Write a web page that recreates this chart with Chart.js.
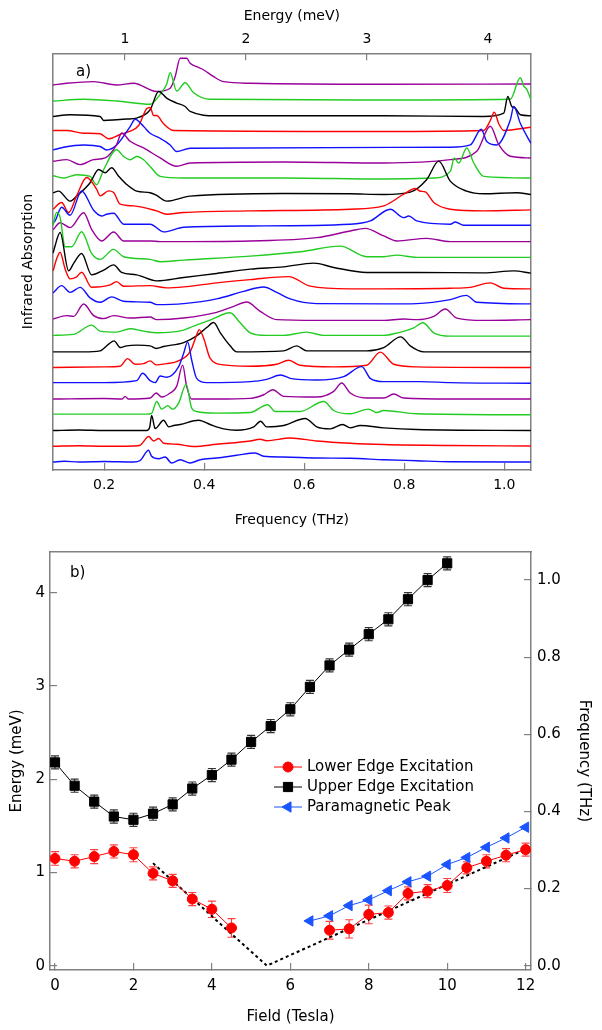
<!DOCTYPE html>
<html>
<head>
<meta charset="utf-8">
<title>Infrared absorption vs field</title>
<script src="https://cdn.jsdelivr.net/npm/chart.js@4.4.1/dist/chart.umd.min.js"></script>
<style>
  body { margin: 0; background: #fff; }
  #wrap { position: relative; width: 602px; height: 1030px; }
  canvas { position: absolute; left: 0; }
  #spectra { top: 0; }
  #modes { top: 530px; }
</style>
</head>
<body>
<div id="wrap">
  <canvas id="spectra" width="602" height="530"></canvas>
  <canvas id="modes" width="602" height="500"></canvas>
</div>
<script>
Chart.defaults.font.family = '"DejaVu Sans", sans-serif';
Chart.defaults.color = '#000';

const axisGray = '#808080';
const THZ_PER_MEV = 0.2418;

// ---- panel a: absorption spectra, one per field step (0 ... 12 T), [THz, absorption]
const t00 = [[0.098,0],[0.12,0.7],[0.15,0],[0.2,0.5],[0.259,0],[0.272,1.5],[0.289,11.7],[0.295,5.7],[0.309,3.3],[0.322,5],[0.335,-1],[0.352,2.3],[0.372,-1],[0.392,2.3],[0.425,4],[0.465,6.7],[0.502,9],[0.519,5.7],[0.559,5],[0.625,4],[0.692,3.7],[0.759,2.3],[0.825,1.3],[0.892,0.3],[1.053,0]];
const t05 = [[0.098,0],[0.15,0.5],[0.2,0],[0.259,0.3],[0.272,1],[0.289,9.7],[0.299,5.3],[0.309,7.7],[0.319,3],[0.345,2],[0.379,-0.3],[0.425,2],[0.492,5.3],[0.512,7],[0.525,5.5],[0.572,8.3],[0.625,5.3],[0.692,3],[0.759,1.7],[0.892,0.7],[1.053,0.3]];
const t10 = [[0.098,0],[0.15,0.5],[0.2,0],[0.285,0],[0.291,3],[0.295,15],[0.302,2],[0.319,10.3],[0.329,3.7],[0.339,5],[0.352,6],[0.389,10.3],[0.412,6],[0.439,1.7],[0.465,0.3],[0.499,3.7],[0.513,9.3],[0.525,3.7],[0.559,5],[0.602,12],[0.625,3.7],[0.652,1.7],[0.677,6],[0.692,2.7],[0.712,5],[0.759,2.7],[0.825,1],[1.053,0]];
const t15 = [[0.098,0.7],[0.2,0.7],[0.285,0.7],[0.295,1.5],[0.305,13.3],[0.315,5.7],[0.327,9],[0.337,5.7],[0.349,11.7],[0.364,30.7],[0.375,6.7],[0.385,3.3],[0.425,1.7],[0.492,2.3],[0.527,10],[0.542,3.3],[0.592,3.3],[0.639,13.3],[0.659,4.3],[0.692,1],[0.729,5.7],[0.745,2.3],[0.759,4.3],[0.825,1],[1.053,0]];
const t20 = [[0.098,0],[0.2,0.5],[0.236,0],[0.242,2.7],[0.248,0],[0.292,1],[0.304,6],[0.315,2],[0.332,6],[0.345,12.7],[0.357,34],[0.365,12.7],[0.375,0],[0.425,0],[0.492,0.7],[0.519,4.3],[0.537,9.3],[0.559,2.7],[0.625,2],[0.659,7.7],[0.675,16],[0.692,6],[0.725,1],[0.759,1],[0.779,5],[0.799,1],[0.892,0],[1.053,0]];
const t25 = [[0.098,0.7],[0.2,0.7],[0.265,2.7],[0.277,10],[0.292,2.7],[0.302,0.7],[0.312,7.3],[0.325,6],[0.349,16.7],[0.359,30],[0.367,41.5],[0.375,23.3],[0.385,5],[0.405,0.7],[0.492,1.7],[0.525,4],[0.553,8.3],[0.572,5],[0.625,3.3],[0.679,6.7],[0.715,16.7],[0.732,5],[0.759,1.7],[0.832,1.7],[0.892,0.7],[1.053,0]];
const t30 = [[0.098,0],[0.2,0.7],[0.232,1.3],[0.247,9],[0.262,3.3],[0.279,4],[0.292,6.7],[0.304,2.7],[0.325,4],[0.345,6],[0.372,16],[0.385,32.7],[0.39,38],[0.399,29.3],[0.412,9.3],[0.439,2.7],[0.492,1.3],[0.545,3.3],[0.569,7.3],[0.592,2.3],[0.659,0.7],[0.725,2.3],[0.752,15.5],[0.779,3.3],[0.825,0.7],[1.053,0]];
const t35 = [[0.098,0],[0.159,0],[0.192,1],[0.209,7.7],[0.22,11],[0.232,4.3],[0.245,6],[0.265,6.7],[0.292,6],[0.304,3.3],[0.319,5.3],[0.359,9.3],[0.385,16],[0.405,24.3],[0.419,29.3],[0.432,19.3],[0.452,6],[0.465,0],[0.559,1],[0.585,6],[0.605,1],[0.725,1],[0.759,4.3],[0.793,15],[0.812,6],[0.839,0],[1.053,0]];
const t40 = [[0.098,0.7],[0.139,1.7],[0.175,11],[0.192,5],[0.225,4],[0.252,7.3],[0.279,5],[0.305,3.3],[0.359,6],[0.379,10],[0.412,16],[0.452,23.3],[0.472,13.3],[0.492,3.3],[0.525,0.7],[0.559,0.7],[0.605,4],[0.639,0.7],[0.759,0.7],[0.779,2.3],[0.819,8.3],[0.837,13.3],[0.859,3.3],[0.892,0],[1.053,0]];
const t45 = [[0.098,1.3],[0.125,4.7],[0.139,4],[0.159,16.3],[0.179,4.7],[0.199,1.7],[0.219,4.7],[0.252,2.3],[0.292,3.3],[0.305,0.7],[0.359,2.3],[0.425,8],[0.459,14],[0.485,18.3],[0.512,9],[0.545,0.7],[0.625,0],[0.759,0],[0.799,1.3],[0.825,0.7],[0.859,4],[0.882,11.3],[0.905,2.3],[0.959,0],[1.053,0.7]];
const t50 = [[0.098,11.7],[0.115,19],[0.132,12.3],[0.152,17.3],[0.172,6.7],[0.192,2.3],[0.215,7.7],[0.239,3.3],[0.292,2.3],[0.305,0],[0.359,1],[0.425,5.7],[0.479,13.3],[0.519,17.7],[0.545,12.3],[0.572,5.7],[0.625,1],[0.759,0.7],[0.825,1],[0.892,5],[0.924,9.3],[0.945,2.3],[1.053,0.7]];
const t55 = [[0.098,18],[0.105,30],[0.112,36.7],[0.122,20],[0.132,10],[0.145,12],[0.155,16.7],[0.175,1.7],[0.212,4],[0.225,7.3],[0.239,2.7],[0.292,3.3],[0.325,1],[0.359,2],[0.425,6],[0.492,9.3],[0.569,12.3],[0.612,2.7],[0.692,0],[0.892,0.7],[0.932,1.5],[0.972,6],[0.999,0.7],[1.053,0]];
const t60 = [[0.098,20],[0.101,25.7],[0.112,40.7],[0.129,2.3],[0.139,9.7],[0.155,19.7],[0.175,-1.7],[0.199,3],[0.219,8.3],[0.235,0.7],[0.265,-1.7],[0.305,-7.7],[0.359,-4.3],[0.425,-0.3],[0.492,4],[0.559,6.3],[0.619,10],[0.659,5.7],[0.725,0.7],[0.825,0.7],[0.959,0.3],[1.019,2.3],[1.053,0]];
const t65 = [[0.098,32],[0.105,45],[0.112,40],[0.122,10.7],[0.135,10.7],[0.155,25.7],[0.175,4],[0.192,-2],[0.219,8],[0.239,0.7],[0.292,-2],[0.312,-4.3],[0.359,-2.7],[0.492,1.3],[0.592,5.7],[0.672,11.3],[0.725,0.7],[0.759,0.7],[0.785,2.3],[0.825,0],[1.053,0]];
const t70 = [[0.098,12],[0.112,19],[0.132,14],[0.159,29],[0.175,12.3],[0.195,0.7],[0.219,9.7],[0.239,0.7],[0.292,0.7],[0.312,0],[0.492,0.7],[0.625,4],[0.692,10.7],[0.722,13.3],[0.759,5.7],[0.785,0.7],[0.845,3.3],[0.892,0],[1.053,0]];
const t75 = [[0.098,3],[0.102,5],[0.115,18.7],[0.132,10.7],[0.155,35],[0.179,15.7],[0.195,10],[0.205,11.7],[0.219,12.7],[0.239,1.7],[0.292,1.7],[0.319,-6],[0.359,-1.3],[0.492,0],[0.692,1.7],[0.732,5],[0.772,16.7],[0.799,8.3],[0.809,10],[0.825,5],[0.892,1.7],[0.902,4],[0.919,0.7],[1.053,0.7]];
const t80 = [[0.098,1],[0.115,7.7],[0.129,-2.3],[0.145,14.3],[0.165,32.7],[0.185,21],[0.192,14.3],[0.209,19.3],[0.219,17.7],[0.232,6],[0.259,4.3],[0.305,-0.7],[0.325,-4],[0.359,-2.3],[0.492,-0.7],[0.692,1],[0.759,4.3],[0.799,16],[0.822,21.7],[0.832,19],[0.842,18.3],[0.859,7.7],[0.892,1],[0.959,-0.7],[1.053,0.3]];
const t85 = [[0.098,1.7],[0.109,3.3],[0.132,-6.7],[0.145,-1.7],[0.172,11.7],[0.189,25],[0.202,21.7],[0.215,26.7],[0.229,18.3],[0.245,10],[0.265,3.3],[0.292,1.7],[0.305,-1],[0.325,-6.7],[0.372,-1.7],[0.559,1],[0.692,0.7],[0.759,0],[0.812,2.3],[0.845,15],[0.869,33.3],[0.892,13.3],[0.925,3.3],[0.959,0.7],[1.025,1.7],[1.053,0]];
const t90 = [[0.098,3],[0.119,0.7],[0.145,4],[0.172,2.3],[0.185,-6],[0.199,9],[0.225,29],[0.239,22.3],[0.252,19],[0.265,22.3],[0.279,19],[0.292,12.3],[0.312,2.3],[0.359,0.7],[0.559,0.7],[0.759,-0.3],[0.859,0.7],[0.892,7.3],[0.9,20.7],[0.909,15.7],[0.925,30.7],[0.939,15.7],[0.959,2.3],[1.053,0.7]];
const t95 = [[0.098,1.7],[0.125,3.3],[0.152,-1.7],[0.179,3.3],[0.202,5],[0.225,18.3],[0.235,30],[0.252,21.7],[0.279,15],[0.312,5],[0.345,-3.3],[0.372,0],[0.559,1],[0.759,0],[0.892,3.3],[0.945,11.7],[0.972,36.7],[0.989,18.3],[1.012,6.7],[1.053,5]];
const t100 = [[0.098,-2.7],[0.119,0],[0.159,2.3],[0.192,0.7],[0.205,-2.7],[0.225,2.3],[0.252,20.7],[0.262,28],[0.279,20.7],[0.292,14],[0.312,9],[0.332,2.3],[0.345,-4.3],[0.372,-1],[0.892,0],[0.932,2.3],[0.954,18],[0.965,5.7],[0.985,2.3],[1.012,27.3],[1.019,40.7],[1.032,24],[1.053,4]];
const t105 = [[0.098,1],[0.125,1],[0.159,-1.7],[0.192,-2.3],[0.209,-7.3],[0.232,-3],[0.252,0.3],[0.269,6],[0.285,22.7],[0.292,24],[0.299,16],[0.305,16],[0.319,7.7],[0.339,1],[0.759,0],[0.959,1],[0.972,11],[0.98,19.3],[0.989,7.7],[0.999,1],[1.053,4.3]];
const t110 = [[0.098,-0.7],[0.132,1],[0.192,-0.7],[0.199,-4.7],[0.225,-4],[0.245,-3.3],[0.265,-2.3],[0.292,6],[0.309,24.3],[0.325,17.7],[0.345,12.7],[0.362,9.3],[0.372,4.3],[0.425,0],[0.759,0],[0.959,-0.7],[0.999,2.7],[1.007,19.3],[1.015,9.3],[1.022,7.7],[1.032,1],[1.053,0]];
const t115 = [[0.098,-1],[0.159,0.7],[0.225,-1],[0.292,-4.3],[0.312,5.7],[0.325,15.7],[0.332,27.3],[0.345,9],[0.362,17.3],[0.379,7.3],[0.412,0.7],[0.759,0],[1.012,0.7],[1.032,22.3],[1.039,14],[1.045,10.7],[1.053,0.7]];
const t120 = [[0.098,-0.7],[0.125,1],[0.179,2.7],[0.225,-0.7],[0.259,1],[0.305,-7.3],[0.332,-4],[0.342,7.7],[0.352,26],[0.365,26],[0.372,21],[0.385,17.6],[0.399,14.3],[0.419,7.6],[0.439,2.6],[0.492,1],[0.759,0],[1.053,0.3]];

const spectra = [t00, t05, t10, t15, t20, t25, t30, t35, t40, t45, t50, t55, t60,
                 t65, t70, t75, t80, t85, t90, t95, t100, t105, t110, t115, t120];
const traceColors = ['#1010ff', '#ff0000', '#000000', '#22cc22', '#990099'];
const traceBase = 8;
const traceStep = 15.75;
const freqTicks = [0.2, 0.4, 0.6, 0.8, 1.0];
const energyTopTicks = [1, 2, 3, 4];

// ---- panel b: mode energies (meV) vs field (T)
const upperField = [0,0.5,1,1.5,2,2.5,3,3.5,4,4.5,5,5.5,6,6.5,7,7.5,8,8.5,9,9.5,10];
const upperEnergy = [2.18,1.93,1.76,1.60,1.565,1.63,1.73,1.90,2.045,2.21,2.40,2.57,2.75,2.99,3.22,3.39,3.555,3.715,3.93,4.135,4.315];
const upperErr = [0.07,0.07,0.07,0.07,0.07,0.07,0.07,0.07,0.07,0.07,0.07,0.07,0.07,0.07,0.07,0.07,0.07,0.07,0.07,0.07,0.07];

const lowerField = [0,0.5,1,1.5,2,2.5,3,3.5,4,4.5,7,7.5,8,8.5,9,9.5,10,10.5,11,11.5,12];
const lowerEnergy = [1.15,1.12,1.17,1.225,1.19,0.99,0.91,0.715,0.605,0.405,0.38,0.395,0.55,0.57,0.775,0.80,0.86,1.05,1.12,1.185,1.245];
const lowerErr = [0.073,0.07,0.075,0.07,0.075,0.07,0.07,0.07,0.088,0.10,0.095,0.098,0.10,0.07,0.07,0.07,0.075,0.065,0.07,0.07,0.07];

const paraField = [6.5,7,7.5,8,8.5,9,9.5,10,10.5,11,11.5,12];
const paraEnergy = [0.48,0.535,0.645,0.705,0.805,0.90,0.96,1.085,1.16,1.27,1.37,1.485];

const guideField = [2.5, 5.4, 12];
const guideEnergy = [1.1, 0, 1.25];

const fieldTicks = [0, 2, 4, 6, 8, 10, 12];
const energyTicks = [0, 1, 2, 3, 4];
const thzTicks = [0, 0.2, 0.4, 0.6, 0.8, 1.0];

// ---- helpers
function setTicks(values) {
  return scale => { scale.ticks = values.map(v => ({ value: v })); };
}
function boxSize(size) {
  return scale => {
    if (scale.isHorizontal()) scale.height = size; else scale.width = size;
    scale.paddingLeft = scale.paddingRight = scale.paddingTop = scale.paddingBottom = 0;
  };
}
const frame = { color: axisGray, width: 1.5 };
const inward = { drawOnChartArea: false, tickLength: -7, color: axisGray, lineWidth: 1.2 };
const noTicks = { drawOnChartArea: false, drawTicks: false };

function panelLabel(text, dx, dy) {
  return {
    id: 'panelLabel',
    afterDraw(chart) {
      const { ctx, chartArea } = chart;
      ctx.save();
      ctx.font = '15px "DejaVu Sans"';
      ctx.fillStyle = '#000';
      ctx.textBaseline = 'middle';
      ctx.fillText(text, chartArea.left + dx, chartArea.top + dy);
      ctx.restore();
    }
  };
}

// ---- panel a chart
new Chart(document.getElementById('spectra'), {
  type: 'line',
  data: {
    datasets: spectra.map((tr, i) => ({
      data: tr.map(p => ({ x: p[0], y: p[1] + traceBase + traceStep * i })),
      borderColor: traceColors[i % traceColors.length],
      borderWidth: 1.4,
      pointRadius: 0,
      cubicInterpolationMode: 'monotone',
      fill: false
    }))
  },
  options: {
    responsive: false,
    animation: false,
    events: [],
    plugins: { legend: { display: false }, tooltip: { enabled: false } },
    scales: {
      x: {
        type: 'linear', position: 'bottom', min: 0.0972, max: 1.0534,
        afterBuildTicks: setTicks(freqTicks), afterFit: boxSize(60),
        ticks: { callback: v => v.toFixed(1), padding: 14.3, font: { size: 14 }, maxRotation: 0, autoSkip: false },
        grid: inward, border: frame,
        title: { display: true, text: 'Frequency (THz)', font: { size: 14 }, padding: { top: 0, bottom: 1.6 } }
      },
      xE: {
        type: 'linear', position: 'top', min: 0.0972 / THZ_PER_MEV, max: 1.0534 / THZ_PER_MEV,
        afterBuildTicks: setTicks(energyTopTicks), afterFit: boxSize(53.3),
        ticks: { callback: v => String(v), padding: 12.9, font: { size: 14 }, maxRotation: 0, autoSkip: false },
        grid: inward, border: frame,
        title: { display: true, text: 'Energy (meV)', font: { size: 14 }, padding: { top: 7.6, bottom: 0 } }
      },
      y: {
        type: 'linear', position: 'left', min: 0, max: 417,
        afterFit: boxSize(52.7),
        ticks: { display: false }, grid: noTicks, border: frame,
        title: { display: true, text: 'Infrared Absorption', font: { size: 14 }, padding: { top: 19.6, bottom: 0 } }
      },
      yR: {
        type: 'linear', position: 'right', min: 0, max: 1,
        afterFit: boxSize(71),
        ticks: { display: false }, grid: noTicks, border: frame
      }
    }
  },
  plugins: [panelLabel('a)', 23.3, 18.7)]
});

// ---- panel b chart
const errorBars = {
  id: 'errorBars',
  beforeDatasetsDraw(chart) {
    const ctx = chart.ctx;
    const yScale = chart.scales.y;
    chart.data.datasets.forEach((ds, i) => {
      if (!ds.errorBars) return;
      const meta = chart.getDatasetMeta(i);
      ctx.save();
      ctx.strokeStyle = ds.errorColor;
      ctx.lineWidth = 1.2;
      meta.data.forEach((pt, j) => {
        const v = ds.data[j].y, e = ds.errorBars[j];
        const yTop = yScale.getPixelForValue(v + e);
        const yBot = yScale.getPixelForValue(v - e);
        ctx.beginPath();
        ctx.moveTo(pt.x, yTop); ctx.lineTo(pt.x, yBot);
        ctx.moveTo(pt.x - 4, yTop); ctx.lineTo(pt.x + 4, yTop);
        ctx.moveTo(pt.x - 4, yBot); ctx.lineTo(pt.x + 4, yBot);
        ctx.stroke();
      });
      ctx.restore();
    });
  }
};

const modeLegend = {
  id: 'modeLegend',
  afterDraw(chart) {
    const { ctx, chartArea } = chart;
    const x0 = chartArea.left + 224, x1 = chartArea.left + 252, xm = chartArea.left + 238;
    const xt = chartArea.left + 257;
    let y = chartArea.top + 215.3;
    ctx.save();
    ctx.font = '15px "DejaVu Sans"';
    ctx.textBaseline = 'middle';
    chart.data.datasets.forEach(ds => {
      if (ds.hideInLegend) return;
      ctx.strokeStyle = ds.borderColor;
      ctx.lineWidth = 1;
      ctx.beginPath(); ctx.moveTo(x0, y); ctx.lineTo(x1, y); ctx.stroke();
      ctx.fillStyle = ds.backgroundColor;
      Chart.helpers.drawPoint(ctx, {
        pointStyle: ds.pointStyle, radius: ds.pointRadius,
        rotation: ds.pointRotation || 0, borderWidth: 1
      }, xm, y);
      ctx.fillStyle = '#000';
      ctx.fillText(ds.label, xt, y);
      y += 20;
    });
    ctx.restore();
  }
};

const gapColor = c => (c.p1.parsed.x - c.p0.parsed.x > 1 ? 'rgba(0,0,0,0)' : undefined);
const toPoints = (xs, ys) => xs.map((b, i) => ({ x: b, y: ys[i] }));
const MEV_PER_THZ = 1 / THZ_PER_MEV;

new Chart(document.getElementById('modes'), {
  type: 'line',
  data: {
    datasets: [
      {
        label: 'Lower Edge Excitation', data: toPoints(lowerField, lowerEnergy),
        borderColor: '#ff0000', backgroundColor: '#ff0000', borderWidth: 1,
        pointStyle: 'circle', pointRadius: 5, pointBorderWidth: 1,
        errorBars: lowerErr, errorColor: '#ff4040', segment: { borderColor: gapColor }
      },
      {
        label: 'Upper Edge Excitation', data: toPoints(upperField, upperEnergy),
        borderColor: '#000000', backgroundColor: '#000000', borderWidth: 1,
        pointStyle: 'rect', pointRadius: 6.5, pointBorderWidth: 1,
        errorBars: upperErr, errorColor: '#333333'
      },
      {
        label: 'Paramagnetic Peak', data: toPoints(paraField, paraEnergy),
        borderColor: '#1a55ff', backgroundColor: '#1a55ff', borderWidth: 1,
        pointStyle: 'triangle', pointRotation: -90, pointRadius: 6, pointBorderWidth: 1
      },
      {
        label: 'guide', hideInLegend: true, data: toPoints(guideField, guideEnergy),
        borderColor: '#000000', borderWidth: 2, borderDash: [3, 3], pointRadius: 0
      }
    ]
  },
  options: {
    responsive: false,
    animation: false,
    events: [],
    plugins: { legend: { display: false }, tooltip: { enabled: false } },
    scales: {
      x: {
        type: 'linear', position: 'bottom', min: -0.1275, max: 12.137,
        afterBuildTicks: setTicks(fieldTicks), afterFit: boxSize(60),
        ticks: { padding: 14, font: { size: 15 }, maxRotation: 0, autoSkip: false },
        grid: inward, border: frame,
        title: { display: true, text: 'Field (Tesla)', font: { size: 15 }, padding: { top: 0, bottom: 4 } }
      },
      xT: {
        type: 'linear', position: 'top', min: -0.1275, max: 12.137,
        afterFit: boxSize(21.7),
        ticks: { display: false }, grid: noTicks, border: frame
      },
      y: {
        type: 'linear', position: 'left', min: -0.0461, max: 4.4397,
        afterBuildTicks: setTicks(energyTicks), afterFit: boxSize(50),
        ticks: { padding: 12, font: { size: 15 }, autoSkip: false },
        grid: inward, border: frame,
        title: { display: true, text: 'Energy (meV)', font: { size: 15 }, padding: { top: 8, bottom: 0 } }
      },
      yF: {
        type: 'linear', position: 'right', min: -0.0461 / MEV_PER_THZ, max: 4.4397 / MEV_PER_THZ,
        afterBuildTicks: setTicks(thzTicks), afterFit: boxSize(71),
        ticks: { callback: v => v.toFixed(1), padding: 13, font: { size: 15 }, autoSkip: false },
        grid: inward, border: frame,
        title: { display: true, text: 'Frequency (THz)', font: { size: 15 }, padding: { top: 9, bottom: 0 } }
      }
    }
  },
  plugins: [errorBars, modeLegend, panelLabel('b)', 20, 21.3)]
});
</script>
</body>
</html>
